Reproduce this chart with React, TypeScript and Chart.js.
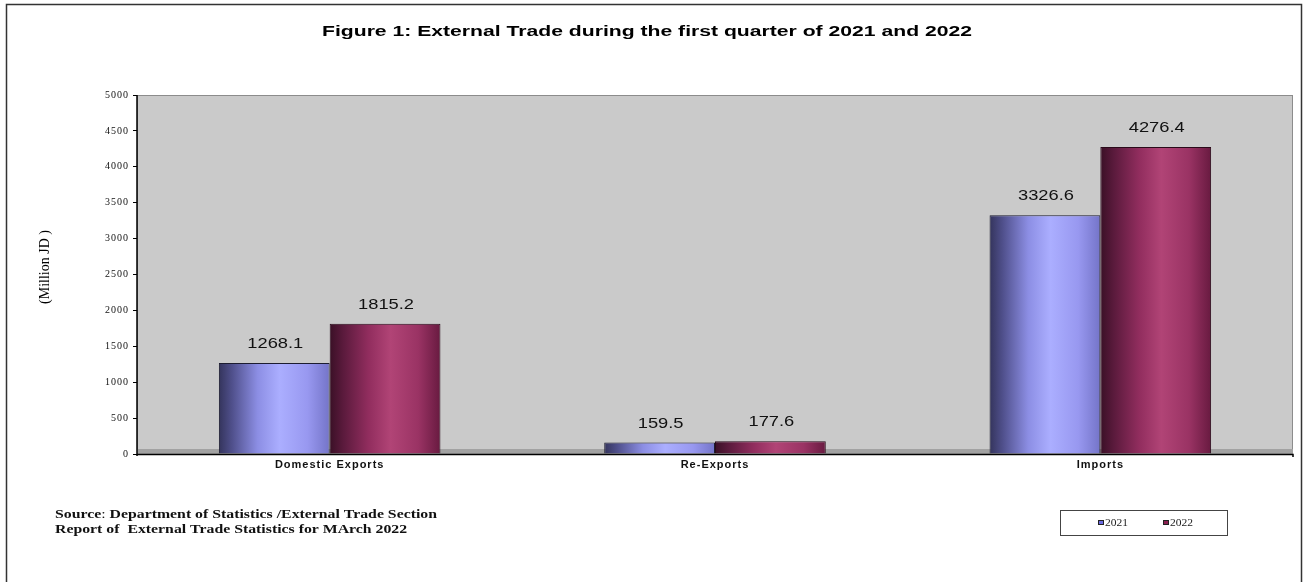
import React, { useEffect, useRef } from "react";
import { Chart, registerables } from "chart.js";

Chart.register(...registerables);

// ---------- data ----------
const categories = ["Domestic Exports", "Re-Exports", "Imports"];
const seriesLabels = ["2021", "2022"];
const values2021 = [1268.1, 159.5, 3326.6];
const values2022 = [1815.2, 177.6, 4276.4];
const yMin = 0;
const yMax = 5000;
const yStep = 500;
const titleText = "Figure 1: External Trade during the first quarter of 2021 and 2022";
const yAxisTitle = "(Million JD )";
const sourceLine1Label = "Source";
const sourceLine1Rest = "Department of Statistics /External Trade Section";
const sourceLine2 = "Report of  External Trade Statistics for MArch 2022";

// ---------- styles ----------
const W = 1308;
const H = 582;
const SANS = "'Liberation Sans', Arial, sans-serif";
const SERIF = "'Liberation Serif', 'Times New Roman', serif";

const blueStops: [number, string][] = [
  [0, "#34345c"],
  [0.12, "#50508c"],
  [0.35, "#8c8ee4"],
  [0.55, "#abaeff"],
  [0.8, "#9898f0"],
  [1, "#7474c8"],
];
const magentaStops: [number, string][] = [
  [0, "#3a1026"],
  [0.12, "#5a1a3c"],
  [0.35, "#912d5e"],
  [0.55, "#b14476"],
  [0.8, "#9a3364"],
  [1, "#681a40"],
];
const seriesStops = [blueStops, magentaStops];
const legendColors = ["#6a6ae0", "#8a2050"];

function drawStretched(ctx: CanvasRenderingContext2D, text: string, x: number, y: number, sx: number) {
  ctx.save();
  ctx.translate(x, y);
  ctx.scale(sx, 1);
  ctx.fillText(text, 0, 0);
  ctx.restore();
}

const decorPlugin = {
  id: "decor",
  beforeDraw(chart: any) {
    const { ctx, chartArea: a } = chart;
    ctx.save();
    ctx.fillStyle = "#ffffff";
    ctx.fillRect(0, 0, W, H);
    // outer frame
    ctx.strokeStyle = "#333";
    ctx.lineWidth = 1.5;
    ctx.strokeRect(6.5, 4.5, 1295, H + 20);
    // plot background
    ctx.fillStyle = "#cacaca";
    ctx.fillRect(a.left, a.top, a.right - a.left, a.bottom - a.top);
    ctx.strokeStyle = "#8c8c8c";
    ctx.lineWidth = 1;
    ctx.strokeRect(a.left + 0.5, a.top + 0.5, a.right - a.left - 1, a.bottom - a.top);
    // floor band
    ctx.fillStyle = "#a2a2a2";
    ctx.fillRect(a.left, a.bottom - 5, a.right - a.left, 5);
    ctx.restore();
    // widen tick label glyph spacing (reference text is horizontally stretched)
    (ctx as any).letterSpacing = "1px";
  },
  beforeDatasetsDraw(chart: any) {
    const { ctx } = chart;
    chart.data.datasets.forEach((ds: any, di: number) => {
      const meta = chart.getDatasetMeta(di);
      meta.data.forEach((el: any) => {
        const left = el.x - el.width / 2;
        const g = ctx.createLinearGradient(left, 0, left + el.width, 0);
        seriesStops[di].forEach(([o, c]) => g.addColorStop(o, c));
        el.options.backgroundColor = g;
      });
    });
  },
  afterDatasetsDraw(chart: any) {
    const { ctx, chartArea: a } = chart;
    ctx.save();
    (ctx as any).letterSpacing = "0px";
    // axis lines
    ctx.strokeStyle = "#000";
    ctx.lineWidth = 1.5;
    ctx.beginPath();
    ctx.moveTo(a.left, a.top);
    ctx.lineTo(a.left, a.bottom + 2);
    ctx.moveTo(a.left, a.bottom + 0.5);
    ctx.lineTo(a.right, a.bottom + 0.5);
    ctx.lineTo(a.right, a.bottom + 3);
    ctx.stroke();
    // data labels
    ctx.fillStyle = "#111";
    ctx.font = `15px ${SANS}`;
    ctx.textAlign = "center";
    ctx.textBaseline = "middle";
    chart.data.datasets.forEach((ds: any, di: number) => {
      const meta = chart.getDatasetMeta(di);
      meta.data.forEach((el: any, i: number) => {
        drawStretched(ctx, Number(ds.data[i]).toFixed(1), el.x + 1, el.y - 19, 1.22);
      });
    });
    ctx.restore();
  },
  afterDraw(chart: any) {
    const { ctx } = chart;
    ctx.save();
    (ctx as any).letterSpacing = "0px";
    // title
    ctx.fillStyle = "#000";
    ctx.font = `bold 14px ${SANS}`;
    ctx.textAlign = "center";
    ctx.textBaseline = "middle";
    const tw = ctx.measureText(titleText).width;
    drawStretched(ctx, titleText, 647, 32, 650 / tw);

    // y axis title
    ctx.save();
    ctx.translate(45, 267);
    ctx.rotate(-Math.PI / 2);
    ctx.font = `14px ${SERIF}`;
    ctx.fillStyle = "#000";
    ctx.fillText(yAxisTitle, 0, 0);
    ctx.restore();

    // source text
    ctx.textAlign = "left";
    ctx.fillStyle = "#111";
    ctx.font = `bold 12px ${SERIF}`;
    const wLab = ctx.measureText(sourceLine1Label).width;
    const wRest = ctx.measureText(sourceLine1Rest).width;
    ctx.font = `12px ${SERIF}`;
    const wColon = ctx.measureText(": ").width;
    const sx = 382 / (wLab + wColon + wRest);
    let x = 55;
    ctx.font = `bold 12px ${SERIF}`;
    drawStretched(ctx, sourceLine1Label, x, 515, sx);
    x += wLab * sx;
    ctx.font = `12px ${SERIF}`;
    drawStretched(ctx, ": ", x, 515, sx);
    x += wColon * sx;
    ctx.font = `bold 12px ${SERIF}`;
    drawStretched(ctx, sourceLine1Rest, x, 515, sx);
    drawStretched(ctx, sourceLine2, 55, 530, sx);

    // legend
    ctx.strokeStyle = "#444";
    ctx.lineWidth = 1;
    ctx.strokeRect(1060.5, 510.5, 167, 25);
    ctx.font = `10px ${SERIF}`;
    const itemX = [1098, 1163];
    seriesLabels.forEach((lab, i) => {
      ctx.fillStyle = legendColors[i];
      ctx.fillRect(itemX[i], 520, 6, 5);
      ctx.strokeStyle = "#222";
      ctx.strokeRect(itemX[i] + 0.5, 520.5, 5, 4);
      ctx.fillStyle = "#222";
      drawStretched(ctx, lab, itemX[i] + 7, 523, 1.15);
    });
    ctx.restore();
  },
};

export default function App() {
  const ref = useRef<HTMLCanvasElement | null>(null);

  useEffect(() => {
    if (!ref.current) return;
    const chart = new Chart(ref.current, {
      type: "bar",
      data: {
        labels: categories,
        datasets: [
          {
            label: seriesLabels[0],
            data: values2021,
            backgroundColor: (c: any) => (c.dataIndex >= 0 ? "#9a9cf0" : "#9a9cf0"),
            borderColor: "#1c1c30",
            borderWidth: 1,
            borderSkipped: "bottom",
          },
          {
            label: seriesLabels[1],
            data: values2022,
            backgroundColor: (c: any) => (c.dataIndex >= 0 ? "#a03468" : "#a03468"),
            borderColor: "#2a0a1a",
            borderWidth: 1,
            borderSkipped: "bottom",
          },
        ],
      },
      options: {
        responsive: false,
        maintainAspectRatio: false,
        animation: false,
        layout: { padding: { left: 0, top: 95, right: 15, bottom: 0 } },
        datasets: {
          bar: { barPercentage: 1, categoryPercentage: 0.575 },
        },
        plugins: {
          legend: { display: false },
          title: { display: false },
          tooltip: { enabled: false },
        },
        scales: {
          x: {
            grid: { display: false, drawTicks: false },
            border: { display: false },
            ticks: {
              color: "#111",
              padding: 4,
              font: { family: SANS, size: 11, weight: "bold" },
            },
            afterFit: (s: any) => {
              s.height = 128;
            },
          },
          y: {
            min: yMin,
            max: yMax,
            ticks: {
              stepSize: yStep,
              color: "#111",
              padding: 4,
              font: { family: SERIF, size: 10 },
              callback: (v: any) => String(v),
            },
            grid: { drawOnChartArea: false, tickLength: 4, color: "#000" },
            border: { display: false },
            afterFit: (s: any) => {
              s.width = 137;
            },
          },
        },
      } as any,
      plugins: [decorPlugin],
    });
    return () => chart.destroy();
  }, []);

  return (
    <div style={{ position: "fixed", left: 0, top: 0, width: W, height: H, background: "#fff" }}>
      <canvas ref={ref} width={W} height={H} style={{ display: "block", width: W, height: H }} />
    </div>
  );
}
